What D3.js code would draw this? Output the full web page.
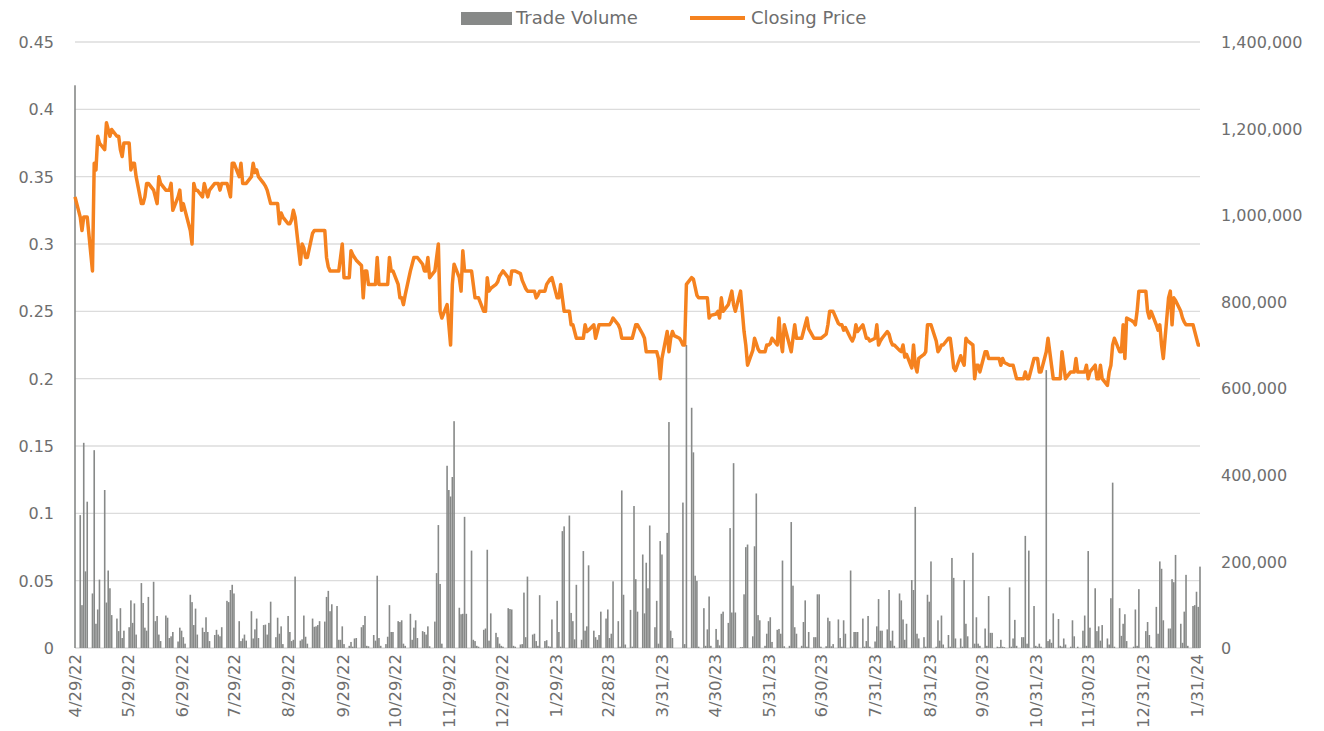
<!DOCTYPE html>
<html>
<head>
<meta charset="utf-8">
<script src="https://cdn.jsdelivr.net/npm/d3@7"></script>
<style>
  body { margin: 0; background: #fff; }
  svg text { font-family: "Century Gothic", "DejaVu Sans", sans-serif; fill: #6e6e6e; }
</style>
</head>
<body>
<svg id="chart" width="1324" height="731"></svg>
<script>
// first and last trading day shown
const startDate = "2022-04-29";
const endDate = "2024-02-02";

const xTickLabels = ["4/29/22", "5/29/22", "6/29/22", "7/29/22", "8/29/22", "9/29/22", "10/29/22",
    "11/29/22", "12/29/22", "1/29/23", "2/28/23", "3/31/23", "4/30/23", "5/31/23", "6/30/23",
    "7/31/23", "8/31/23", "9/30/23", "10/31/23", "11/30/23", "12/31/23", "1/31/24"];
const priceTicks = [0, 0.05, 0.1, 0.15, 0.2, 0.25, 0.3, 0.35, 0.4, 0.45];
const volumeTicks = [0, 200000, 400000, 600000, 800000, 1000000, 1200000, 1400000];
const seriesNames = ["Trade Volume", "Closing Price"];

// closing price, one value per weekday (first row is Fri 4/29/22, then one row per week)
const closingPrice = [
    0.335,
    0.32, 0.31, 0.32, 0.32, 0.32,
    0.28, 0.36, 0.355, 0.38, 0.375,
    0.37, 0.39, 0.385, 0.38, 0.385,
    0.38, 0.38, 0.37, 0.365, 0.375,
    0.375, 0.355, 0.36, 0.36, 0.35,
    0.33, 0.33, 0.335, 0.345, 0.345,
    0.34, 0.335, 0.33, 0.35, 0.345,
    0.34, 0.34, 0.34, 0.345, 0.325,
    0.335, 0.34, 0.325, 0.33, 0.325,
    0.31, 0.30, 0.345, 0.34, 0.34,
    0.335, 0.345, 0.34, 0.335, 0.34,
    0.345, 0.345, 0.345, 0.34, 0.345,
    0.345, 0.34, 0.335, 0.36, 0.36,
    0.35, 0.36, 0.345, 0.345, 0.345,
    0.35, 0.36, 0.353, 0.355, 0.35,
    0.345, 0.343, 0.34, 0.335, 0.33,
    0.33, 0.33, 0.315, 0.323, 0.32,
    0.315, 0.315, 0.318, 0.325, 0.32,
    0.285, 0.30, 0.297, 0.29, 0.29,
    0.308, 0.31, 0.31, 0.31, 0.31,
    0.31, 0.29, 0.283, 0.28, 0.28,
    0.28, 0.28, 0.29, 0.30, 0.275,
    0.275, 0.295, 0.292, 0.29, 0.288,
    0.284, 0.26, 0.28, 0.28, 0.27,
    0.27, 0.27, 0.29, 0.27, 0.27,
    0.27, 0.27, 0.29, 0.28, 0.28,
    0.27, 0.26, 0.26, 0.255, 0.262,
    0.28, 0.285, 0.29, 0.29, 0.29,
    0.285, 0.28, 0.28, 0.29, 0.275,
    0.28, 0.29, 0.30, 0.25, 0.245,
    0.255, 0.24, 0.225, 0.27, 0.285,
    0.275, 0.265, 0.295, 0.28, 0.28,
    0.28, 0.27, 0.26, 0.26, 0.26,
    0.25, 0.25, 0.275, 0.265, 0.267,
    0.27, 0.272, 0.276, 0.278, 0.28,
    0.275, 0.27, 0.28, 0.28, 0.28,
    0.278, 0.273, 0.27, 0.267, 0.265,
    0.265, 0.265, 0.26, 0.262, 0.265,
    0.265, 0.27, 0.272, 0.274, 0.275,
    0.26, 0.26, 0.27, 0.26, 0.25,
    0.25, 0.24, 0.24, 0.235, 0.23,
    0.23, 0.23, 0.24, 0.235, 0.236,
    0.24, 0.23, 0.235, 0.24, 0.24,
    0.24, 0.24, 0.24, 0.242, 0.245,
    0.24, 0.237, 0.23, 0.23, 0.23,
    0.23, 0.23, 0.235, 0.24, 0.24,
    0.233, 0.23, 0.22, 0.22, 0.22,
    0.22, 0.22, 0.215, 0.20, 0.215,
    0.235, 0.22, 0.23, 0.235, 0.232,
    0.23, 0.228, 0.225, 0.225, 0.27,
    0.275, 0.274, 0.268, 0.262, 0.26,
    0.26, 0.26, 0.26, 0.245, 0.247,
    0.248, 0.25, 0.245, 0.26, 0.25,
    0.255, 0.26, 0.265, 0.255, 0.25,
    0.265, 0.25, 0.235, 0.225, 0.21,
    0.221, 0.23, 0.226, 0.222, 0.22,
    0.22, 0.225, 0.225, 0.226, 0.23,
    0.225, 0.245, 0.228, 0.22, 0.24,
    0.225, 0.22, 0.23, 0.24, 0.23,
    0.23, 0.235, 0.24, 0.245, 0.237,
    0.23, 0.23, 0.23, 0.23, 0.23,
    0.233, 0.24, 0.25, 0.25, 0.25,
    0.241, 0.24, 0.24, 0.236, 0.238,
    0.23, 0.228, 0.231, 0.24, 0.235,
    0.24, 0.235, 0.23, 0.23, 0.228,
    0.23, 0.24, 0.225, 0.228, 0.23,
    0.235, 0.233, 0.228, 0.225, 0.225,
    0.221, 0.22, 0.225, 0.216, 0.218,
    0.208, 0.225, 0.21, 0.205, 0.215,
    0.218, 0.22, 0.24, 0.24, 0.24,
    0.228, 0.22, 0.222, 0.225, 0.225,
    0.23, 0.23, 0.22, 0.208, 0.206,
    0.217, 0.213, 0.21, 0.23, 0.228,
    0.225, 0.20, 0.21, 0.21, 0.205,
    0.22, 0.22, 0.215, 0.215, 0.215,
    0.215, 0.215, 0.21, 0.215, 0.212,
    0.21, 0.21, 0.21, 0.205, 0.20,
    0.20, 0.20, 0.205, 0.20, 0.20,
    0.215, 0.215, 0.215, 0.205, 0.205,
    0.22, 0.23, 0.22, 0.21, 0.20,
    0.20, 0.20, 0.22, 0.21, 0.20,
    0.205, 0.205, 0.205, 0.215, 0.205,
    0.205, 0.205, 0.21, 0.20, 0.205,
    0.21, 0.20, 0.20, 0.21, 0.20,
    0.195, 0.205, 0.21, 0.225, 0.23,
    0.22, 0.22, 0.24, 0.215, 0.245,
    0.243, 0.242, 0.24, 0.25, 0.265,
    0.265, 0.265, 0.25, 0.245, 0.25,
    0.24, 0.236, 0.24, 0.225, 0.215,
    0.26, 0.265, 0.24, 0.26, 0.258,
    0.25, 0.245, 0.242, 0.24, 0.24,
    0.24, 0.235, 0.23, 0.225, 0.225
];

// trade volume in thousands of shares, same layout as closingPrice
const volumeThousands = [
    1300,
    307, 99, 474, 177, 338,
    126, 457, 56, 89, 158,
    365, 105, 179, 138, 76,
    68, 39, 92, 23, 40,
    48, 110, 58, 103, 31,
    150, 104, 47, 40, 118,
    153, 62, 74, 31, 16,
    75, 70, 23, 27, 37,
    15, 47, 40, 25, 10,
    123, 106, 53, 91, 31,
    47, 37, 71, 37, 16,
    30, 42, 31, 27, 48,
    109, 106, 134, 146, 126,
    62, 16, 22, 31, 17,
    85, 22, 43, 68, 23,
    53, 54, 31, 58, 107,
    25, 70, 33, 50, 9,
    74, 37, 16, 19, 165,
    17, 20, 75, 26, 10,
    68, 49, 50, 53, 62,
    61, 118, 132, 85, 101,
    97, 19, 19, 50, 9,
    5, 14, 3, 22, 23,
    48, 53, 74, 5, 4,
    30, 17, 167, 23, 5,
    9, 26, 99, 37, 37,
    62, 60, 64, 10, 5,
    79, 19, 47, 64, 23,
    39, 37, 31, 50, 4,
    61, 173, 284, 148, 10,
    421, 365, 350, 395, 524,
    93, 78, 79, 303, 79,
    225, 19, 16, 5, 3,
    42, 45, 227, 17, 80,
    35, 25, 10, 5, 3,
    92, 90, 89, 5, 3,
    8, 9, 128, 25, 165,
    31, 33, 16, 5, 122,
    16, 18, 4, 3, 66,
    109, 37, 3, 270, 281,
    306, 81, 62, 20, 146,
    19, 224, 40, 50, 191,
    40, 25, 19, 30, 84,
    68, 89, 23, 33, 154,
    62, 3, 364, 123, 8,
    88, 3, 328, 159, 84,
    216, 80, 197, 138, 283,
    48, 109, 10, 247, 216,
    266, 522, 40, 23, 0,
    0, 0, 336, 9, 700,
    555, 452, 167, 155, 3,
    92, 5, 43, 119, 5,
    44, 19, 6, 79, 84,
    58, 277, 82, 427, 82,
    2, 2, 124, 233, 239,
    27, 235, 357, 76, 64,
    5, 33, 62, 71, 14,
    42, 44, 33, 202, 4,
    5, 291, 144, 48, 33,
    5, 60, 110, 3, 37,
    25, 25, 124, 124, 3,
    4, 70, 62, 4, 9,
    66, 23, 3, 64, 33,
    179, 3, 37, 37, 37,
    68, 3, 16, 74, 3,
    15, 50, 113, 40, 40,
    43, 134, 17, 40, 5,
    126, 110, 66, 19, 56,
    157, 134, 326, 33, 22,
    25, 3, 123, 107, 200,
    3, 64, 17, 75, 8,
    30, 3, 208, 162, 22,
    22, 3, 157, 56, 27,
    220, 10, 71, 10, 5,
    45, 5, 120, 35, 35,
    3, 2, 19, 3, 2,
    140, 3, 22, 65, 5,
    25, 25, 259, 10, 225,
    97, 5, 3, 10, 3,
    642, 16, 20, 12, 80,
    67, 5, 3, 22, 8,
    3, 64, 27, 0, 3,
    40, 75, 5, 224, 47,
    138, 39, 50, 17, 53,
    22, 8, 115, 382, 3,
    92, 28, 56, 78, 16,
    0, 3, 89, 5, 136,
    0, 39, 60, 30, 3,
    95, 33, 200, 183, 64,
    45, 45, 159, 152, 215,
    56, 12, 84, 169, 5,
    97, 99, 130, 95, 188
];

const parseIso = d3.timeParse("%Y-%m-%d");
const parseLabel = d3.timeParse("%m/%d/%y");

// weekdays between first and last day
const tradingDays = d3.timeDay.range(parseIso(startDate), d3.timeDay.offset(parseIso(endDate), 1))
    .filter(d => d.getDay() !== 0 && d.getDay() !== 6);

const data = tradingDays.map((d, i) => ({
    date: d,
    price: closingPrice[i],
    volume: volumeThousands[i] * 1000
}));

const plotLeft = 75, plotRight = 1200, plotTop = 42, plotBottom = 648;

const svg = d3.select('#chart');

const scalex = d3.scaleTime()
    .domain([parseIso(startDate), parseIso(endDate)])
    .range([plotLeft, plotRight]);
const scaley = d3.scaleLinear()
    .domain([0, 0.45])
    .range([plotBottom, plotTop]);
const scaleyVol = d3.scaleLinear()
    .domain([0, 1400000])
    .range([plotBottom, plotTop]);

// gridlines
svg.append('g')
    .selectAll('line')
    .data(priceTicks)
    .enter()
    .append('line')
    .attr('x1', plotLeft)
    .attr('x2', plotRight)
    .attr('y1', d => scaley(d))
    .attr('y2', d => scaley(d))
    .attr('stroke', '#dcdcdc')
    .attr('stroke-width', 1.4);

// left axis
const leftAxis = svg.append('g')
    .attr('transform', `translate(${plotLeft - 18},0)`)
    .call(d3.axisLeft(scaley).tickValues(priceTicks).tickSize(0).tickFormat(d3.format("~g")));
leftAxis.select('.domain').remove();
leftAxis.selectAll('text').attr('font-size', 16).attr('dy', '0.35em');

// right axis
const rightAxis = svg.append('g')
    .attr('transform', `translate(${plotRight + 18},0)`)
    .call(d3.axisRight(scaleyVol).tickValues(volumeTicks).tickSize(0).tickFormat(d3.format(",")));
rightAxis.select('.domain').remove();
rightAxis.selectAll('text').attr('font-size', 16).attr('dy', '0.35em');

// bottom axis, rotated date labels
const bottomAxis = svg.append('g')
    .attr('transform', `translate(0,${plotBottom})`)
    .call(d3.axisBottom(scalex)
        .tickValues(xTickLabels.map(parseLabel))
        .tickSize(0)
        .tickFormat((d, i) => xTickLabels[i]));
bottomAxis.select('.domain').remove();
bottomAxis.selectAll('text')
    .attr('font-size', 16.5)
    .attr('text-anchor', 'end')
    .attr('transform', 'rotate(-90)')
    .attr('x', -6)
    .attr('y', 0)
    .attr('dy', '0.35em');

// volume bars
svg.append('g')
    .selectAll('rect')
    .data(data.filter(d => d.volume > 0))
    .enter()
    .append('rect')
    .attr('x', d => scalex(d.date) - 0.8)
    .attr('width', 1.6)
    .attr('y', d => scaleyVol(d.volume))
    .attr('height', d => plotBottom - scaleyVol(d.volume))
    .attr('fill', '#878988');

// closing price line
svg.append('path')
    .datum(data)
    .attr('fill', 'none')
    .attr('stroke', '#f5821f')
    .attr('stroke-width', 3.5)
    .attr('stroke-linejoin', 'round')
    .attr('d', d3.line()
        .x(d => scalex(d.date))
        .y(d => scaley(d.price)));

// legend
const legend = svg.append('g');
legend.append('rect')
    .attr('x', 461).attr('y', 12)
    .attr('width', 51).attr('height', 13)
    .attr('fill', '#878988');
legend.append('text')
    .attr('x', 516).attr('y', 18)
    .attr('dy', '0.35em')
    .attr('font-size', 18)
    .text(seriesNames[0]);
legend.append('line')
    .attr('x1', 690).attr('x2', 745)
    .attr('y1', 18).attr('y2', 18)
    .attr('stroke', '#f5821f')
    .attr('stroke-width', 4);
legend.append('text')
    .attr('x', 751).attr('y', 18)
    .attr('dy', '0.35em')
    .attr('font-size', 18)
    .text(seriesNames[1]);
</script>
</body>
</html>
